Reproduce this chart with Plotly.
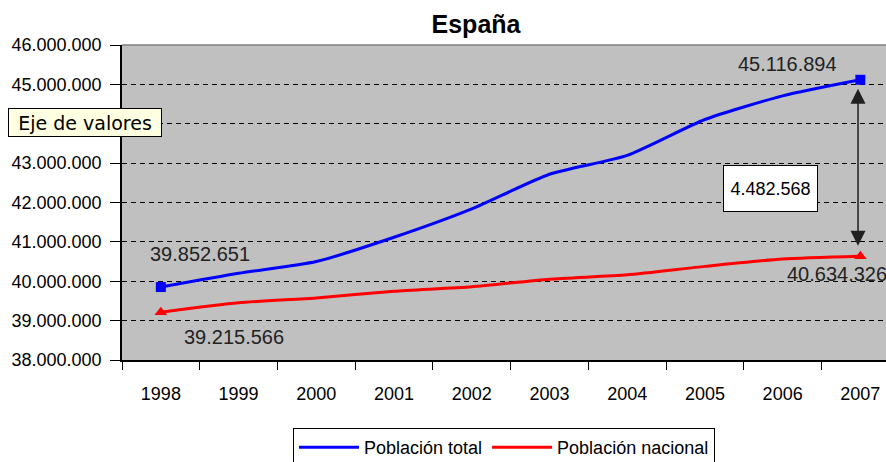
import plotly.graph_objects as go

years = ["1998", "1999", "2000", "2001", "2002", "2003", "2004", "2005", "2006", "2007"]
poblacion_total = [39852651, 40202160, 40499791, 41116842, 41837894, 42717064, 43197684, 44108530, 44708964, 45116894]
poblacion_nacional = [39215566, 39453680, 39575911, 39746185, 39859948, 40052896, 40163358, 40377920, 40564798, 40634326]
diferencia = poblacion_total[-1] - poblacion_nacional[-1]

def fmt(v):
    return f"{v:,}".replace(",", ".")

SANS = "Liberation Sans, Arial, sans-serif"

fig = go.Figure()
fig.add_trace(go.Scatter(x=years, y=poblacion_total, mode="lines", name="Población total",
                         line=dict(color="#0000FF", width=3, shape="spline", smoothing=0.6)))
fig.add_trace(go.Scatter(x=years, y=poblacion_nacional, mode="lines", name="Población nacional",
                         line=dict(color="#FF0000", width=3, shape="spline", smoothing=0.6)))
fig.add_trace(go.Scatter(x=[years[0], years[-1]], y=[poblacion_total[0], poblacion_total[-1]], mode="markers",
                         marker=dict(symbol="square", size=10, color="#0000FF"), showlegend=False, hoverinfo="skip"))
fig.add_trace(go.Scatter(x=[years[0], years[-1]], y=[poblacion_nacional[0], poblacion_nacional[-1]], mode="markers",
                         marker=dict(symbol="triangle-up", size=11, color="#FF0000"), showlegend=False, hoverinfo="skip"))

lab_font = dict(family=SANS, size=20, color="#222222")
annotations = [
    dict(x=0, y=poblacion_total[0], text=fmt(poblacion_total[0]), showarrow=False, xshift=39, yshift=33, font=lab_font),
    dict(x=0, y=poblacion_nacional[0], text=fmt(poblacion_nacional[0]), showarrow=False, xshift=73, yshift=-25, font=lab_font),
    dict(x=9, y=poblacion_total[-1], text=fmt(poblacion_total[-1]), showarrow=False, xshift=-73, yshift=16, font=lab_font),
    dict(x=9, y=poblacion_nacional[-1], text=fmt(poblacion_nacional[-1]), showarrow=False, xshift=-23, yshift=-18, font=lab_font),
    dict(x=8.97, y=40900000, ax=8.97, ay=44930000, axref="x", ayref="y", text="", showarrow=True,
         arrowhead=2, startarrowhead=2, arrowside="end+start", arrowwidth=1.5, arrowsize=2, arrowcolor="#202020",
         startarrowsize=2),
    dict(xref="paper", yref="paper", x=(770 - 122) / 764, y=(360 - 188) / 315, xanchor="center", yanchor="middle",
         text=fmt(diferencia), showarrow=False,
         bgcolor="#FFFFFF", bordercolor="#000000", borderwidth=1, width=91, height=43,
         font=dict(family=SANS, size=18, color="#000000")),
    dict(xref="paper", yref="paper", x=(8 - 122) / 764, y=(360 - 122) / 315, xanchor="left", yanchor="middle",
         text="Eje de valores", showarrow=False, bgcolor="#FFFFE1", bordercolor="#000000", borderwidth=1,
         width=150, height=25, borderpad=1,
         font=dict(family="DejaVu Sans, sans-serif", size=19, color="#000000")),
]

fig.update_layout(
    width=886, height=462,
    margin=dict(l=122, r=0, t=45, b=102),
    paper_bgcolor="#FFFFFF", plot_bgcolor="#C0C0C0",
    separators=",.",
    title=dict(text="<b>España</b>", x=476 / 886, xanchor="center", y=1 - 24 / 462, yanchor="middle",
               font=dict(family=SANS, size=25, color="#000000")),
    xaxis=dict(type="category", range=[-0.5, 9.33], tickson="boundaries", ticks="outside", ticklen=8,
               tickcolor="#000000", showline=True, linecolor="#000000", linewidth=1.5, showgrid=False,
               tickfont=dict(family=SANS, size=18, color="#000000"), ticklabelstandoff=17, zeroline=False,
               automargin=False),
    yaxis=dict(range=[38000000, 46000000], dtick=1000000, tickformat=",d", ticks="outside", ticklen=10,
               tickcolor="#000000", showline=True, linecolor="#000000", linewidth=1.5,
               showgrid=True, gridcolor="#000000", griddash="5px,4px", gridwidth=1, zeroline=False,
               tickfont=dict(family=SANS, size=18, color="#000000"), ticklabelstandoff=5, automargin=False),
    legend=dict(orientation="h", xref="container", yref="container", x=504 / 886, xanchor="center",
                y=1 - 428 / 462, yanchor="top",
                bordercolor="#000000", borderwidth=1, bgcolor="#FFFFFF", itemwidth=60,
                font=dict(family=SANS, size=18, color="#000000")),
    annotations=annotations,
    shapes=[dict(type="line", xref="paper", yref="paper", x0=0, x1=1, y0=1, y1=1,
                 line=dict(color="#808080", width=1.5))],
    showlegend=True,
)

fig.write_html("out.html", config={"displayModeBar": False},
               post_script="document.body.style.margin='0';document.body.style.padding='0';")
